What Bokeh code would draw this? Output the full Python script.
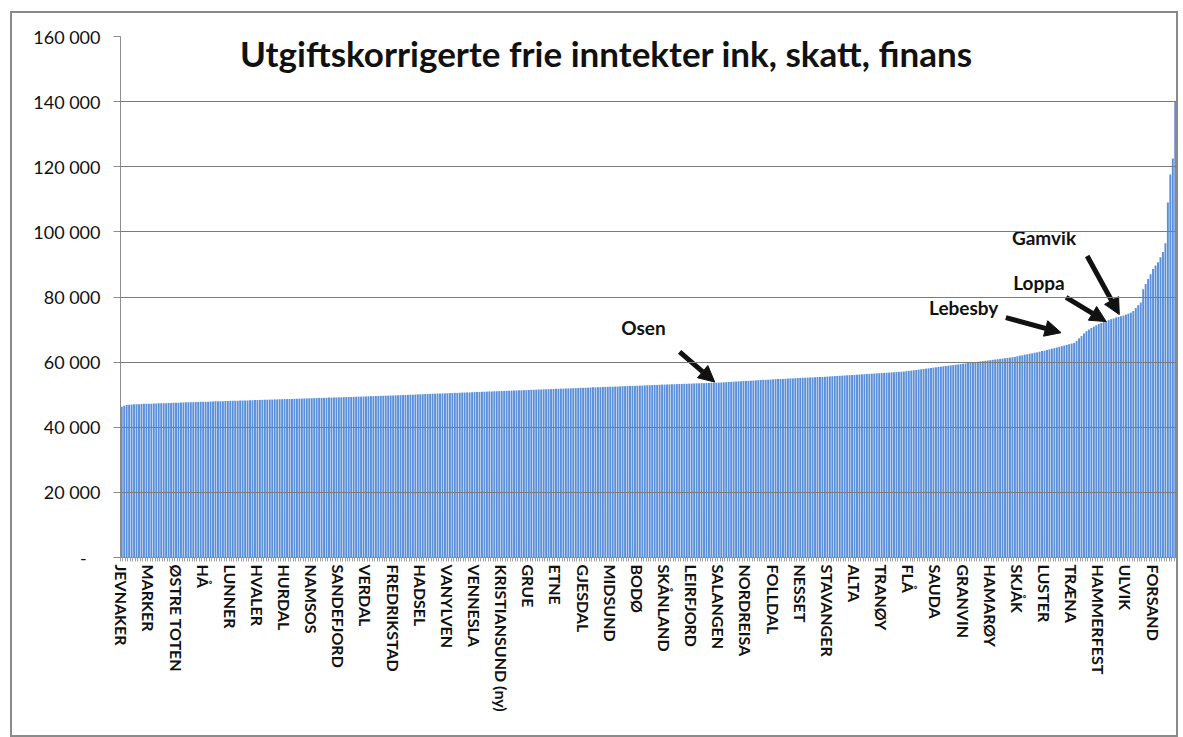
from bokeh.plotting import figure
from bokeh.models import FixedTicker, Label, Arrow, NormalHead, Range1d
from bokeh.embed import file_html
from bokeh.resources import INLINE

# ---------------- data ----------------
values = [
    46300, 46600, 46800, 46900, 47000, 47050, 47100, 47100, 47150, 47200,
    47200, 47250, 47250, 47300, 47300, 47350, 47350, 47400, 47400, 47450,
    47450, 47500, 47500, 47550, 47600, 47600, 47650, 47650, 47700, 47700,
    47750, 47750, 47800, 47800, 47850, 47850, 47900, 47900, 47950, 47950,
    48000, 48000, 48050, 48050, 48100, 48100, 48150, 48150, 48200, 48200,
    48250, 48250, 48300, 48300, 48350, 48350, 48400, 48400, 48450, 48450,
    48500, 48500, 48550, 48550, 48600, 48600, 48650, 48650, 48700, 48700,
    48750, 48750, 48800, 48800, 48850, 48850, 48900, 48900, 48950, 48950,
    49000, 49000, 49050, 49050, 49100, 49100, 49150, 49150, 49200, 49200,
    49250, 49250, 49300, 49300, 49350, 49350, 49400, 49400, 49450, 49450,
    49500, 49550, 49550, 49600, 49600, 49650, 49650, 49700, 49700, 49750,
    49750, 49800, 49800, 49850, 49900, 49900, 49950, 50000, 50000, 50050,
    50100, 50100, 50150, 50200, 50200, 50250, 50300, 50300, 50350, 50350,
    50400, 50400, 50450, 50500, 50500, 50550, 50550, 50600, 50650, 50650,
    50700, 50700, 50750, 50800, 50800, 50850, 50900, 50900, 50950, 51000,
    51000, 51050, 51050, 51100, 51100, 51150, 51200, 51200, 51250, 51300,
    51300, 51350, 51350, 51400, 51400, 51450, 51500, 51500, 51550, 51600,
    51600, 51650, 51650, 51700, 51700, 51750, 51800, 51800, 51850, 51850,
    51900, 51900, 51950, 52000, 52000, 52050, 52100, 52100, 52150, 52150,
    52200, 52250, 52250, 52300, 52300, 52350, 52400, 52400, 52450, 52450,
    52500, 52500, 52550, 52600, 52600, 52650, 52650, 52700, 52700, 52750,
    52800, 52800, 52850, 52900, 52900, 52950, 53000, 53000, 53050, 53100,
    53100, 53150, 53150, 53200, 53200, 53250, 53300, 53300, 53350, 53350,
    53400, 53400, 53450, 53500, 53500, 53550, 53550, 53600, 53600, 53650,
    53650, 53700, 53700, 53750, 53800, 53850, 53900, 53950, 54000, 54050,
    54100, 54150, 54200, 54200, 54250, 54300, 54350, 54400, 54450, 54500,
    54550, 54550, 54600, 54650, 54700, 54750, 54800, 54800, 54850, 54900,
    54950, 55000, 55000, 55050, 55100, 55150, 55200, 55200, 55250, 55300,
    55300, 55350, 55400, 55400, 55450, 55500, 55550, 55600, 55650, 55700,
    55750, 55800, 55850, 55900, 55950, 56000, 56050, 56100, 56150, 56200,
    56250, 56300, 56350, 56400, 56450, 56500, 56550, 56600, 56650, 56700,
    56750, 56800, 56850, 56900, 56950, 57000, 57050, 57100, 57200, 57300,
    57400, 57500, 57600, 57700, 57800, 57900, 58000, 58100, 58200, 58300,
    58400, 58500, 58600, 58700, 58800, 58900, 59000, 59100, 59200, 59300,
    59400, 59500, 59600, 59700, 59800, 59900, 60000, 60100, 60200, 60300,
    60400, 60500, 60600, 60700, 60800, 60900, 61000, 61100, 61200, 61300,
    61400, 61500, 61600, 61800, 62000, 62100, 62300, 62400, 62600, 62700,
    62900, 63000, 63200, 63400, 63500, 63700, 63900, 64100, 64300, 64500,
    64700, 64900, 65100, 65300, 65500, 65700, 65900, 66500, 67300, 68000,
    68800, 69500, 70000, 70500, 70900, 71300, 71700, 72000, 72300, 72600,
    72900, 73200, 73400, 73700, 73900, 74100, 74300, 74600, 74900, 75200,
    75700, 76600, 77500, 78300, 82400, 84000, 85500, 87000, 88600, 89700,
    90700, 92200, 93800, 96500, 109000, 117600, 122500, 140000,
]

# every 11th municipality is labelled on the x axis
label_names = [
    "JEVNAKER", "MARKER", "ØSTRE TOTEN", "HÅ", "LUNNER", "HVALER", "HURDAL",
    "NAMSOS", "SANDEFJORD", "VERDAL", "FREDRIKSTAD", "HADSEL", "VANYLVEN",
    "VENNESLA", "KRISTIANSUND (ny)", "GRUE", "ETNE", "GJESDAL", "MIDSUND",
    "BODØ", "SKÅNLAND", "LEIRFJORD", "SALANGEN", "NORDREISA", "FOLLDAL",
    "NESSET", "STAVANGER", "ALTA", "TRANØY", "FLÅ", "SAUDA", "GRANVIN",
    "HAMARØY", "SKJÅK", "LUSTER", "TRÆNA", "HAMMERFEST", "ULVIK", "FORSAND",
]
label_step = 11

y_ticks = [0, 20000, 40000, 60000, 80000, 100000, 120000, 140000, 160000]

title_text = "Utgiftskorrigerte frie inntekter ink, skatt, finans"
annot_texts = ["Osen", "Lebesby", "Loppa", "Gamvik"]

# ---------------- figure ----------------
n = len(values)
idx = list(range(n))

p = figure(
    width=1168, height=726,
    output_backend="svg", toolbar_location=None,
    x_range=Range1d(-0.5, n - 0.5), y_range=Range1d(0, 160000),
    min_border_left=108, min_border_right=4, min_border_top=23, min_border_bottom=182,
    styles={"border": "2px solid #8a8a8a", "margin-left": "10px", "margin-top": "11px"},
)
p.outline_line_color = None
p.background_fill_color = "white"
p.border_fill_color = "white"

p.vbar(x=idx, top=values, width=0.78, bottom=0,
       fill_color="#5a8fd9", line_color=None)

# y axis
ya = p.yaxis[0]
ya.ticker = FixedTicker(ticks=y_ticks)
ya.major_label_overrides = {t: ("-\u00a0\u00a0\u00a0" if t == 0 else f"{t:,}".replace(",", " ")) for t in y_ticks}
ya.major_label_text_font = "Lato"
ya.major_label_text_font_size = "18px"
ya.major_label_text_color = "#111111"
ya.axis_line_color = "#8c8c8c"
ya.major_tick_line_color = "#8c8c8c"
ya.major_tick_out = 7
ya.major_tick_in = 0
ya.minor_tick_line_color = None
ya.major_label_standoff = 13

# x axis
xa = p.xaxis[0]
label_pos = [i * label_step for i in range(len(label_names))]
xa.ticker = FixedTicker(ticks=label_pos, minor_ticks=[i - 0.5 for i in range(n + 1)])
xa.major_label_overrides = {pos: name for pos, name in zip(label_pos, label_names)}
xa.major_label_orientation = "vertical"
xa.major_label_text_font = "Lato"
xa.major_label_text_font_style = "bold"
xa.major_label_text_font_size = "16px"
xa.major_label_text_color = "#111111"
xa.axis_line_color = "#8c8c8c"
xa.major_tick_line_color = None
xa.major_tick_out = 0
xa.major_tick_in = 0
xa.minor_tick_line_color = "#a0a0a0"
xa.minor_tick_out = 4
xa.minor_tick_in = 0
xa.major_label_standoff = 3

p.xgrid.grid_line_color = None
p.ygrid.ticker = FixedTicker(ticks=y_ticks)
p.ygrid.grid_line_color = "#7a7a7a"
p.ygrid.grid_line_width = 1
p.ygrid.level = "overlay"


# pixel -> data helpers for annotation placement
def dx(px):
    return (px - 120) / (1052 / n) - 0.5


def dy(py):
    return (553 - py) * (20000 / 64.6)


# title (inside the plot area)
p.add_layout(Label(x=dx(604), y=dy(53), text=title_text,
                   text_font="Lato", text_font_style="bold",
                   text_font_size="35px", text_align="center",
                   text_baseline="middle", text_color="#111111"))

# annotations with arrows
label_px = [(641, 325), (960, 305), (1035, 280), (1040, 236)]
arrow_px = [((677, 349), (712, 379)),
            ((1002, 315), (1057, 330)),
            ((1062, 295), (1102, 319)),
            ((1083, 254), (1115, 312))]
for t, (lx, ly), ((sx, sy), (ex, ey)) in zip(annot_texts, label_px, arrow_px):
    p.add_layout(Label(x=dx(lx), y=dy(ly), text=t,
                       text_font="Lato", text_font_style="bold",
                       text_font_size="19px", text_align="center",
                       text_baseline="middle", text_color="#111111"))
    p.add_layout(Arrow(x_start=dx(sx), y_start=dy(sy), x_end=dx(ex), y_end=dy(ey),
                       line_width=5, line_color="#111111",
                       end=NormalHead(size=16, fill_color="#111111", line_color="#111111")))

open("out.html", "w").write(file_html(p, INLINE))
